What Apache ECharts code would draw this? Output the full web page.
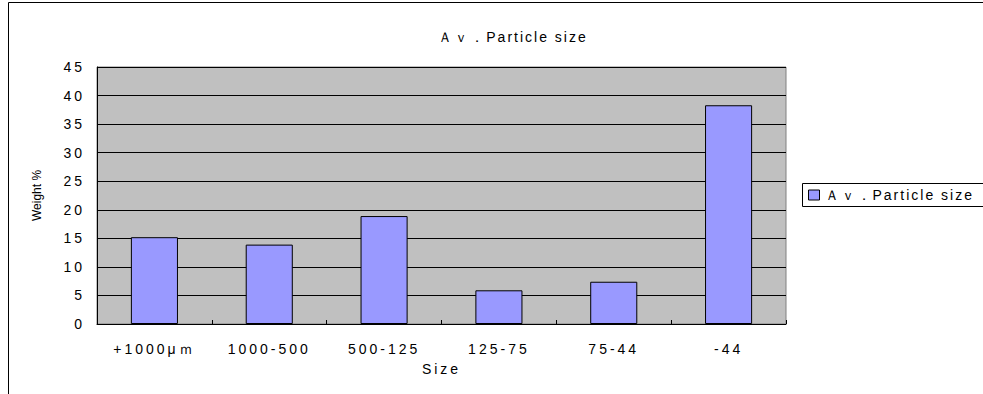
<!DOCTYPE html>
<html><head><meta charset="utf-8">
<script src="https://cdn.jsdelivr.net/npm/echarts@6/dist/echarts.min.js"></script>
<style>html,body{margin:0;padding:0;background:#fff}#c{width:983px;height:394px}
#c svg text{letter-spacing:3px}</style>
</head><body><div id="c"></div>
<script>
const categories = ['+1000μｍ', '1000-500', '500-125', '125-75', '75-44', '-44'];
const values = [15.2, 13.9, 18.9, 5.9, 7.4, 38.3];
const seriesName = 'Ａｖ．Particle size';
const titleText = 'Ａｖ．Particle size';
const yTicks = { min: 0, max: 45, interval: 5 };

const chart = echarts.init(document.getElementById('c'), null, { renderer: 'svg' });
const font = 'Liberation Sans, Arial, sans-serif';
chart.setOption({
  animation: false,
  backgroundColor: '#fff',
  title: {
    text: titleText, left: 508, top: 25, textAlign: 'center',
    textStyle: { fontFamily: font, fontSize: 14, fontWeight: 'normal', color: '#000' }
  },
  graphic: [
    { type: 'rect', shape: { x: 8.5, y: 2.5, width: 1000, height: 420 }, style: { fill: null, stroke: '#000', lineWidth: 1 }, z: -1 },
    { type: 'rect', shape: { x: 802.5, y: 183.5, width: 200, height: 23 }, style: { fill: '#fff', stroke: '#000', lineWidth: 1 }, z: 1 }
  ],
  legend: {
    data: [seriesName], left: 808, top: 188, padding: 0, itemWidth: 11, itemHeight: 10, itemGap: 6,
    icon: 'rect', z: 5,
    itemStyle: { borderColor: '#000', borderWidth: 1 },
    textStyle: { fontFamily: font, fontSize: 14, color: '#000' }
  },
  grid: { left: 97, top: 67, width: 689, height: 257, show: true, backgroundColor: '#c0c0c0', borderColor: '#808080', borderWidth: 1 },
  xAxis: {
    type: 'category', data: categories,
    name: 'Size', nameLocation: 'middle', nameGap: 38,
    nameTextStyle: { fontFamily: font, fontSize: 14, color: '#000' },
    axisLine: { lineStyle: { color: '#000', width: 1 } },
    axisTick: { show: true, inside: true, length: 4, lineStyle: { color: '#000' } },
    axisLabel: { fontFamily: font, fontSize: 14, color: '#000', margin: 18, interval: 0 },
    splitLine: { show: false }
  },
  yAxis: {
    type: 'value', min: yTicks.min, max: yTicks.max, interval: yTicks.interval,
    name: 'Weight %', nameLocation: 'middle', nameGap: 54, nameRotate: 90,
    nameTextStyle: { fontFamily: font, fontSize: 12, color: '#000' },
    axisLine: { show: true, lineStyle: { color: '#000', width: 1 } },
    axisTick: { show: true, inside: true, length: 4, lineStyle: { color: '#000' } },
    axisLabel: { fontFamily: font, fontSize: 14, color: '#000', margin: 12 },
    splitLine: { show: true, lineStyle: { color: '#000', width: 1 } }
  },
  series: [{
    name: seriesName, type: 'bar', data: values, barCategoryGap: '59%',
    itemStyle: { color: '#9999ff', borderColor: '#000', borderWidth: 1 }
  }]
});
function fixSpacing() {
  document.querySelectorAll('#c svg text').forEach(t => {
    if (t.textContent === 'Weight %') t.style.letterSpacing = '0px';
    if (t.textContent === seriesName) t.style.letterSpacing = '2px';
  });
}
chart.on('finished', fixSpacing);
fixSpacing();
</script></body></html>
